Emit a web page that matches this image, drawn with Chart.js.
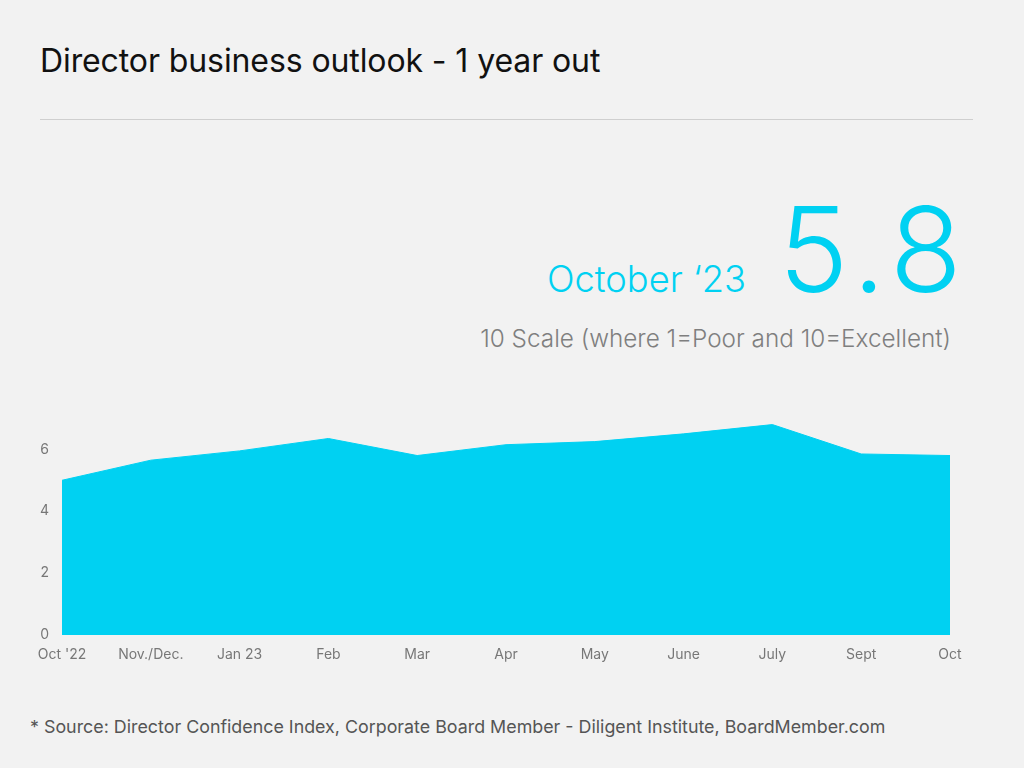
<!DOCTYPE html>
<html>
<head>
<meta charset="utf-8">
<script src="https://cdn.jsdelivr.net/npm/chart.js@4/dist/chart.umd.min.js"></script>
<style>
  html, body { margin: 0; padding: 0; }
  body { width: 1024px; height: 768px; background: #f2f2f2; position: relative; overflow: hidden; font-family: "Inter", "Lato", sans-serif; }
  .title { position: absolute; left: 40px; top: 41px; font-size: 32px; color: #111; letter-spacing: -0.1px; }
  .rule { position: absolute; left: 40px; top: 119px; width: 933px; height: 1px; background: #cfcfcf; }
  .month { position: absolute; right: 278px; top: 257px; font-size: 36.3px; color: #00d1f2; font-weight: 300; }
  .value { position: absolute; right: 55px; top: 178px; font-size: 118px; color: #00d1f2; font-weight: 300; letter-spacing: 7px; }
  .scale { position: absolute; right: 73px; top: 323px; font-size: 24.3px; color: #7f7f7f; font-weight: 300; }
  .source { position: absolute; left: 30px; top: 716px; font-size: 17.85px; color: #555; }
  .chart-box { position: absolute; left: 0; top: 397px; width: 1024px; height: 273px; }
</style>
</head>
<body>
<div class="title">Director business outlook - 1 year out</div>
<div class="rule"></div>
<div class="month">October ‘23</div>
<div class="value">5.8</div>
<div class="scale">10 Scale (where 1=Poor and 10=Excellent)</div>
<div class="chart-box"><canvas id="outlook"></canvas></div>
<div class="source">* Source: Director Confidence Index, Corporate Board Member - Diligent Institute, BoardMember.com</div>

<script>
const months = ["Oct '22", "Nov./Dec.", "Jan 23", "Feb", "Mar", "Apr", "May", "June", "July", "Sept", "Oct"];
const outlook = [5.0, 5.65, 5.95, 6.35, 5.8, 6.15, 6.25, 6.5, 6.8, 5.85, 5.8];
const yTicks = [0, 2, 4, 6];

const ctx = document.getElementById("outlook").getContext("2d");

new Chart(ctx, {
  type: 'line',
  data: {
    labels: months,
    datasets: [{
      data: outlook,
      fill: 'origin',
      backgroundColor: '#00d1f2',
      borderColor: '#00d1f2',
      borderWidth: 1,
      pointRadius: 0,
      tension: 0
    }]
  },
  options: {
    responsive: true,
    maintainAspectRatio: false,
    animation: false,
    layout: { padding: { top: 12, right: 74, left: 0, bottom: 0 } },
    plugins: {
      legend: { display: false },
      tooltip: { enabled: false }
    },
    scales: {
      x: {
        grid: { display: false, drawTicks: false },
        border: { display: false },
        offset: false,
        ticks: {
          padding: 11,
          color: '#777',
          maxRotation: 0,
          autoSkip: false,
          font: { family: 'Inter', size: 14 }
        },
        afterFit: (scale) => { scale.height = 35; }
      },
      y: {
        min: 0,
        max: 7,
        grid: { display: false, drawTicks: false },
        border: { display: false },
        afterBuildTicks: (scale) => { scale.ticks = yTicks.map(v => ({ value: v })); },
        ticks: {
          padding: 13,
          color: '#777',
          font: { family: 'Inter', size: 14 }
        },
        afterFit: (scale) => { scale.width = 62; }
      }
    }
  }
});
</script>
</body>
</html>
